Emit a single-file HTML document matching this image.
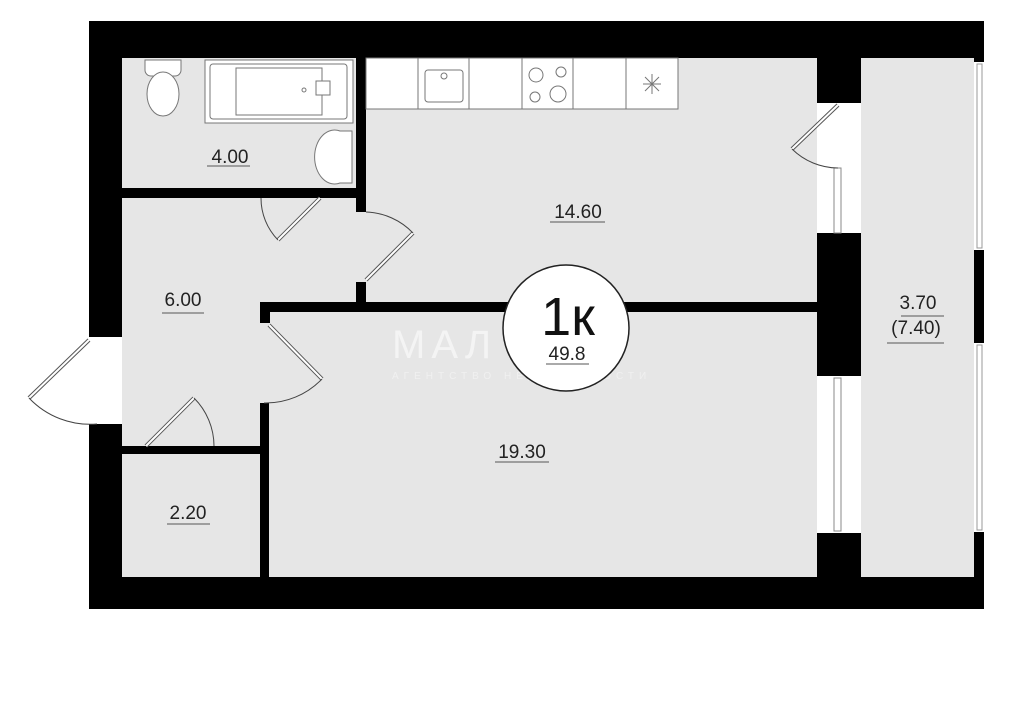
<!DOCTYPE html>
<html><head><meta charset="utf-8"><style>
html,body{margin:0;padding:0;background:#fff;width:1024px;height:707px;overflow:hidden}
svg{display:block}
text{font-family:"Liberation Sans","DejaVu Sans",sans-serif;fill:#222}
</style></head><body>
<svg width="1024" height="707" viewBox="0 0 1024 707">
<rect x="89" y="21" width="895" height="588" fill="#000"/>
<g fill="#e6e6e6">
<rect x="122" y="58" width="234" height="130"/>
<rect x="366" y="58" width="451" height="244"/>
<rect x="122" y="198" width="244" height="248"/>
<rect x="260" y="282" width="106" height="20"/>
<rect x="122" y="454" width="138" height="123"/>
<rect x="269" y="312" width="548" height="265"/>
<rect x="861" y="58" width="113" height="519"/>
</g>
<g fill="#000">
<rect x="122" y="188" width="138" height="10"/>
<rect x="322" y="188" width="44" height="10"/>
<rect x="356" y="58" width="10" height="154"/>
<rect x="356" y="282" width="10" height="20"/>
<rect x="260" y="302" width="557" height="10"/>
<rect x="260" y="302" width="10" height="21"/>
<rect x="260" y="403" width="9" height="174"/>
<rect x="122" y="446" width="23" height="8"/>
<rect x="214" y="446" width="52" height="8"/>
</g>
<rect x="89" y="337" width="33" height="87" fill="#fff"/>
<rect x="817" y="103" width="44" height="130" fill="#fff"/>
<rect x="834" y="168" width="7" height="65" fill="#fff" stroke="#888" stroke-width="1"/>
<rect x="817" y="376" width="44" height="157" fill="#fff"/>
<rect x="834" y="378" width="7" height="153" fill="#fff" stroke="#888" stroke-width="1"/>
<rect x="974" y="62" width="10" height="188" fill="#fff"/>
<rect x="977" y="64" width="5" height="184" fill="#fff" stroke="#999" stroke-width="1"/>
<rect x="974" y="343" width="10" height="189" fill="#fff"/>
<rect x="977" y="345" width="5" height="185" fill="#fff" stroke="#999" stroke-width="1"/>
<g fill="none" stroke="#444" stroke-width="1">
<line x1="89" y1="340" x2="29" y2="398" stroke-width="4" stroke="#555"/>
<line x1="89" y1="340" x2="29" y2="398" stroke-width="2" stroke="#fff"/>
<path d="M29,398 A84,84 0 0 0 97,424"/>
<line x1="320" y1="198" x2="278" y2="240" stroke-width="4" stroke="#555"/>
<line x1="320" y1="198" x2="278" y2="240" stroke-width="2" stroke="#fff"/>
<path d="M261,198 A60,60 0 0 0 278,240"/>
<line x1="366" y1="280" x2="413" y2="233" stroke-width="4" stroke="#555"/>
<line x1="366" y1="280" x2="413" y2="233" stroke-width="2" stroke="#fff"/>
<path d="M366,212 A68,68 0 0 1 413,233"/>
<line x1="269" y1="325" x2="322" y2="379" stroke-width="4" stroke="#555"/>
<line x1="269" y1="325" x2="322" y2="379" stroke-width="2" stroke="#fff"/>
<path d="M322,379 A78,78 0 0 1 264,403"/>
<line x1="146" y1="446" x2="194" y2="398" stroke-width="4" stroke="#555"/>
<line x1="146" y1="446" x2="194" y2="398" stroke-width="2" stroke="#fff"/>
<path d="M194,398 A68,68 0 0 1 214,446"/>
<line x1="838" y1="105" x2="792" y2="149" stroke-width="4" stroke="#555"/>
<line x1="838" y1="105" x2="792" y2="149" stroke-width="2" stroke="#fff"/>
<path d="M792,149 A66,66 0 0 0 838,168"/>
</g>
<g fill="#fff" stroke="#777" stroke-width="1">
<rect x="366" y="58" width="312" height="51"/>
<line x1="418" y1="58" x2="418" y2="109"/>
<line x1="469" y1="58" x2="469" y2="109"/>
<line x1="522" y1="58" x2="522" y2="109"/>
<line x1="573" y1="58" x2="573" y2="109"/>
<line x1="626" y1="58" x2="626" y2="109"/>
<rect x="425" y="70" width="38" height="32" rx="3"/>
<circle cx="444" cy="76" r="3"/>
<circle cx="536" cy="75" r="7"/><circle cx="561" cy="72" r="5"/>
<circle cx="535" cy="97" r="5"/><circle cx="558" cy="94" r="8"/>
<path d="M652,74 L652,94 M643,84 L661,84 M645,77 L659,91 M659,77 L645,91"/>
</g>
<g fill="#fff" stroke="#777" stroke-width="1">
<rect x="205" y="60" width="148" height="63"/>
<rect x="210" y="64" width="137" height="55" rx="3"/>
<rect x="236" y="68" width="86" height="47"/>
<rect x="316" y="81" width="14" height="14"/>
<circle cx="304" cy="90" r="2"/>
<path d="M145,60 h36 v10 a6,6 0 0 1 -6,6 h-24 a6,6 0 0 1 -6,-6z"/>
<ellipse cx="163" cy="94" rx="16" ry="22"/>
<path d="M352,131 L340,131 A20,27 0 1 0 340,183 L352,183 Z"/>
</g>
<text x="392" y="358" font-size="40" style="fill:#f4f4f4;letter-spacing:6px">МАЛ</text>
<text x="392" y="379" font-size="10" style="fill:#f0f0f0;letter-spacing:5px">АГЕНТСТВО НЕДВИЖИМОСТИ</text>
<circle cx="566" cy="328" r="63" fill="#fff" stroke="#222" stroke-width="1.5"/>
<text x="568" y="335" font-size="54" text-anchor="middle" style="fill:#111">1к</text>
<text x="567" y="360" font-size="19" text-anchor="middle">49.8</text>
<line x1="546" y1="364" x2="589" y2="364" stroke="#555"/>
<g font-size="19" text-anchor="middle">
<text x="230" y="163">4.00</text>
<text x="578" y="218">14.60</text>
<text x="183" y="306">6.00</text>
<text x="522" y="458">19.30</text>
<text x="188" y="519">2.20</text>
<text x="918" y="309">3.70</text>
<text x="916" y="334">(7.40)</text>
</g>
<g stroke="#555" stroke-width="1">
<line x1="207" y1="166" x2="250" y2="166"/>
<line x1="550" y1="222" x2="605" y2="222"/>
<line x1="162" y1="313" x2="204" y2="313"/>
<line x1="495" y1="462" x2="549" y2="462"/>
<line x1="167" y1="524" x2="210" y2="524"/>
<line x1="901" y1="316" x2="944" y2="316"/>
<line x1="887" y1="343" x2="944" y2="343"/>
</g>
</svg>
</body></html>
